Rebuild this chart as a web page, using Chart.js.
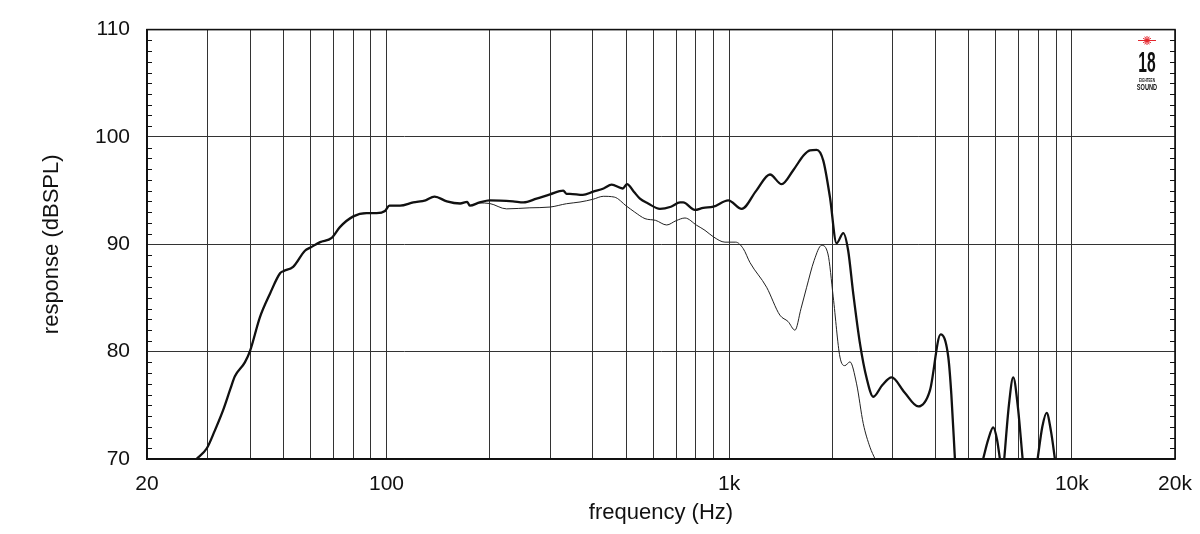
<!DOCTYPE html>
<html>
<head>
<meta charset="utf-8">
<script src="https://cdn.jsdelivr.net/npm/chart.js@4.4.1/dist/chart.umd.min.js"></script>
<style>
  html, body { margin: 0; padding: 0; background: #fff; }
  #wrap { width: 1200px; height: 534px; position: relative; }
</style>
</head>
<body>
<div id="wrap"><canvas id="response"></canvas></div>
<script>
// on-axis response (thick line), Hz / dBSPL
const freqMain = [27.9, 29.9, 31.5, 33.4, 35, 36.1, 38.6, 40, 42.7, 45.7, 48.9, 50, 53.4, 57.8, 60, 64, 69.2, 73.1, 80, 87.5,
  93.6, 99, 102, 109.5, 119.7, 130, 138, 150, 164, 172, 175, 187, 200, 234, 251, 274, 300, 328, 335, 343,
  374, 401, 430, 454, 489, 503, 527, 549, 580, 628, 676, 719, 734, 794, 840, 899, 994, 1088, 1200, 1315,
  1423, 1538, 1650, 1721, 1800, 1882, 1968, 2058, 2153, 2225, 2300, 2407, 2520, 2633, 2800, 2979, 3250, 3563, 3854, 4141,
  4359, 4450, 4558, 5000, 5509, 5700, 5896, 6050, 6166, 6250, 6349, 6550, 6745, 6950, 7184, 7500, 7944, 8200, 8441, 8700, 8925];
const splMain = [70, 71, 72.6, 74.6, 76.5, 77.7, 79, 80.1, 83.2, 85.4, 87.3, 87.5, 87.9, 89.4, 89.7, 90.2, 90.6, 91.6, 92.6, 92.9,
  92.9, 93.1, 93.6, 93.6, 93.9, 94.1, 94.45, 94, 93.8, 93.95, 93.6, 93.9, 94.1, 94, 93.9, 94.25, 94.65, 95, 94.7, 94.7,
  94.6, 94.9, 95.2, 95.55, 95.2, 95.6, 94.9, 94.25, 93.8, 93.3, 93.5, 93.9, 93.9, 93.2, 93.4, 93.5, 94.1, 93.3, 95, 96.5,
  95.6, 96.9, 98.3, 98.75, 98.8, 97.8, 94.4, 90.1, 91.05, 89.4, 85.5, 80.8, 77.5, 75.8, 76.9, 77.6, 76.2, 74.9, 76.4, 81.6,
  79.5, 76, 70, null, 70, 71.8, 72.95, 71.8, 70, null, 70, 75, 77.6, 75, 70, null, 70, 73, 74.3, 72.5, 70];

// off-axis response (thin line)
const freqOff = [27.9, 29.9, 31.5, 33.4, 35, 36.1, 38.6, 40, 42.7, 45.7, 48.9, 50, 53.4, 57.8, 60, 64, 69.2, 73.1, 80, 87.5,
  93.6, 99, 102, 109.5, 119.7, 130, 138, 150, 164, 172, 175, 187, 200, 224, 262, 300, 335, 367, 401, 429,
  462, 502, 530, 568, 610, 657, 700, 743, 804, 850, 899, 972, 1045, 1099, 1150, 1286, 1406, 1486, 1556, 1620,
  1683, 1770, 1861, 1942, 2012, 2105, 2177, 2251, 2354, 2462, 2576, 2665];
const splOff = [70, 71, 72.6, 74.6, 76.5, 77.7, 79, 80.1, 83.2, 85.4, 87.3, 87.5, 87.9, 89.4, 89.7, 90.2, 90.6, 91.6, 92.6, 92.9,
  92.9, 93.1, 93.6, 93.6, 93.9, 94.1, 94.45, 94, 93.8, 93.95, 93.6, 93.85, 93.8, 93.3, 93.4, 93.47, 93.78, 93.94, 94.2, 94.47,
  94.4, 93.55, 93, 92.39, 92.23, 91.8, 92.2, 92.45, 91.77, 91.3, 90.7, 90.2, 90.2, 89.6, 88.3, 86, 83.4, 82.8, 82, 84,
  86, 88.5, 89.9, 89.1, 85.1, 79.5, 78.7, 79.05, 77, 73.3, 71.1, 70];

// vertical grid lines and the few labelled ones
const xGrid = [20, 30, 40, 50, 60, 70, 80, 90, 100, 200, 300, 400, 500, 600, 700, 800, 900,
  1000, 2000, 3000, 4000, 5000, 6000, 7000, 8000, 9000, 10000, 20000];
const xLabels = { 20: '20', 100: '100', 1000: '1k', 10000: '10k', 20000: '20k' };
const yTicks = [70, 80, 90, 100, 110];

const toPoints = (fs, vs) => fs.map((f, i) => ({ x: f, y: vs[i] }));

// frame, minor dB ticks and the maker logo
const framePlugin = {
  id: 'frame',
  afterDraw(chart) {
    const ctx = chart.ctx;
    const a = chart.chartArea;
    const y = chart.scales.y;
    ctx.save();
    ctx.strokeStyle = '#111';
    ctx.lineWidth = 1.2;
    for (let v = 71; v < 110; v++) {
      if (v % 10 === 0) continue;
      const py = Math.round(y.getPixelForValue(v)) + 0.5;
      ctx.beginPath();
      ctx.moveTo(a.left, py); ctx.lineTo(a.left + 5, py);
      ctx.moveTo(a.right - 5, py); ctx.lineTo(a.right, py);
      ctx.stroke();
    }
    ctx.lineWidth = 1.6;
    ctx.strokeRect(a.left, a.top, a.right - a.left, a.bottom - a.top);

    // logo
    const cx = 1147, cy = 40.5;
    ctx.strokeStyle = '#e3262d';
    ctx.fillStyle = '#e3262d';
    ctx.lineWidth = 1;
    ctx.beginPath();
    ctx.moveTo(cx - 9, cy); ctx.lineTo(cx + 9, cy);
    for (const ang of [90, 30, 150, 60, 120]) {
      const dx = Math.cos(ang * Math.PI / 180) * 4.5, dy = Math.sin(ang * Math.PI / 180) * 4.5;
      ctx.moveTo(cx - dx, cy - dy); ctx.lineTo(cx + dx, cy + dy);
    }
    ctx.stroke();
    ctx.beginPath(); ctx.arc(cx, cy, 1.1, 0, Math.PI * 2); ctx.fill();

    ctx.fillStyle = '#111';
    ctx.textAlign = 'center';
    ctx.textBaseline = 'alphabetic';
    ctx.save();
    ctx.translate(cx, 72);
    ctx.scale(0.52, 1);
    ctx.font = 'bold 30px "Liberation Sans", sans-serif';
    ctx.fillText('18', 0, 0);
    ctx.restore();
    ctx.save();
    ctx.translate(cx, 82);
    ctx.scale(0.62, 1);
    ctx.font = 'bold 5px "Liberation Sans", sans-serif';
    ctx.fillText('EIGHTEEN', 0, 0);
    ctx.restore();
    ctx.save();
    ctx.translate(cx, 90);
    ctx.scale(0.66, 1);
    ctx.font = 'bold 8.5px "Liberation Sans", sans-serif';
    ctx.fillText('SOUND', 0, 0);
    ctx.restore();
    ctx.restore();
  }
};

new Chart(document.getElementById('response'), {
  type: 'line',
  data: {
    datasets: [
      {
        label: 'on axis',
        data: toPoints(freqMain, splMain),
        borderColor: '#111',
        borderWidth: 2.3,
        pointRadius: 0,
        cubicInterpolationMode: 'monotone',
        spanGaps: false
      },
      {
        label: 'off axis',
        data: toPoints(freqOff, splOff),
        borderColor: '#222',
        borderWidth: 1,
        pointRadius: 0,
        cubicInterpolationMode: 'monotone'
      }
    ]
  },
  options: {
    responsive: true,
    maintainAspectRatio: false,
    animation: false,
    layout: { padding: { top: 29, right: 25, left: 0, bottom: 0 } },
    plugins: {
      legend: { display: false },
      tooltip: { enabled: false }
    },
    scales: {
      x: {
        type: 'logarithmic',
        min: 20,
        max: 20000,
        afterBuildTicks: (scale) => { scale.ticks = xGrid.map(v => ({ value: v })); },
        afterFit: (scale) => { scale.height = 75; scale.paddingLeft = 0; scale.paddingRight = 0; },
        grid: { color: '#333', lineWidth: 1, drawTicks: false },
        border: { display: true, color: '#111', width: 1.6 },
        ticks: {
          autoSkip: false,
          maxRotation: 0,
          padding: 13,
          color: '#111',
          font: { family: '"Liberation Sans", Arial, sans-serif', size: 21 },
          callback: (v) => xLabels[v] || ''
        },
        title: {
          display: true,
          text: 'frequency (Hz)',
          color: '#111',
          font: { family: '"Liberation Sans", Arial, sans-serif', size: 22 },
          padding: { top: 0, bottom: 8 }
        }
      },
      y: {
        min: 70,
        max: 110,
        afterBuildTicks: (scale) => { scale.ticks = yTicks.map(v => ({ value: v })); },
        afterFit: (scale) => { scale.width = 147; },
        grid: { color: '#333', lineWidth: 1, drawTicks: false },
        border: { display: true, color: '#111', width: 1.6 },
        ticks: {
          padding: 17,
          color: '#111',
          font: { family: '"Liberation Sans", Arial, sans-serif', size: 21 }
        },
        title: {
          display: true,
          text: 'response (dBSPL)',
          color: '#111',
          font: { family: '"Liberation Sans", Arial, sans-serif', size: 22 },
          padding: { top: 39, bottom: 0 }
        }
      }
    }
  },
  plugins: [framePlugin]
});
</script>
</body>
</html>
